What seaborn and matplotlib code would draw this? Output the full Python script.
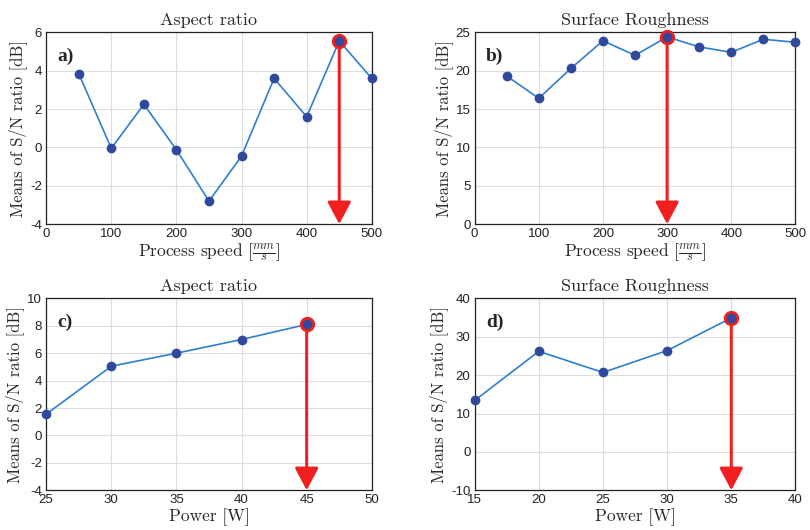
import numpy as np
import pandas as pd
import seaborn as sns
import matplotlib.pyplot as plt

# data
speed = [50, 100, 150, 200, 250, 300, 350, 400, 450, 500]
aspect_speed = [3.85, -0.05, 2.25, -0.12, -2.8, -0.45, 3.6, 1.6, 5.55, 3.6]
rough_speed = [19.3, 16.4, 20.3, 23.9, 22.0, 24.4, 23.1, 22.4, 24.1, 23.7]
power_c = [25, 30, 35, 40, 45]
aspect_power = [1.55, 5.05, 6.0, 7.0, 8.1]
power_d = [15, 20, 25, 30, 35]
rough_power = [13.4, 26.2, 20.7, 26.4, 34.9]

sns.set_style('white')
plt.rcParams['mathtext.fontset'] = 'cm'
plt.rcParams['axes.unicode_minus'] = False
plt.rcParams['font.family'] = ['Liberation Sans', 'DejaVu Sans']

line_col = '#2f7fcf'
dot_col = '#2f4a9c'
serif = ['cmr10', 'Liberation Serif']

panels = [
    dict(x=speed, y=aspect_speed, best=450, title='Aspect ratio', tag='a)',
         xlim=(0, 500), ylim=(-4, 6), xticks=np.arange(0, 501, 100), yticks=np.arange(-4, 7, 2),
         xlabel=r'Process speed $[\frac{mm}{s}]$', pos=[0.057, 0.577, 0.402, 0.362]),
    dict(x=speed, y=rough_speed, best=300, title='Surface Roughness', tag='b)',
         xlim=(0, 500), ylim=(0, 25), xticks=np.arange(0, 501, 100), yticks=np.arange(0, 26, 5),
         xlabel=r'Process speed $[\frac{mm}{s}]$', pos=[0.586, 0.577, 0.396, 0.362]),
    dict(x=power_c, y=aspect_power, best=45, title='Aspect ratio', tag='c)',
         xlim=(25, 50), ylim=(-4, 10), xticks=np.arange(25, 51, 5), yticks=np.arange(-4, 11, 2),
         xlabel='Power [W]', pos=[0.057, 0.075, 0.402, 0.362]),
    dict(x=power_d, y=rough_power, best=35, title='Surface Roughness', tag='d)',
         xlim=(15, 40), ylim=(-10, 40), xticks=np.arange(15, 41, 5), yticks=np.arange(-10, 41, 10),
         xlabel='Power [W]', pos=[0.586, 0.075, 0.396, 0.362]),
]

fig = plt.figure(figsize=(8.1, 5.3), dpi=100)

for p in panels:
    ax = fig.add_axes(p['pos'])
    df = pd.DataFrame({'x': p['x'], 'y': p['y']})
    sns.lineplot(data=df, x='x', y='y', ax=ax, color=line_col, lw=1.2, zorder=3)
    ax.plot(df['x'], df['y'], 'o', color=dot_col, ms=6, zorder=5, clip_on=False)

    # optimum level: red ring + arrow down to the axis
    i = p['x'].index(p['best'])
    bx, by = p['x'][i], p['y'][i]
    ax.annotate('', xy=(bx, p['ylim'][0]), xytext=(bx, by),
                arrowprops=dict(arrowstyle='-|>,head_width=0.45,head_length=0.85',
                                color='#f02020', lw=2.2, mutation_scale=16, shrinkA=0, shrinkB=0),
                zorder=4, annotation_clip=False)
    ax.plot([bx], [by], 'o', color='#f02020', ms=10, zorder=4.5, clip_on=False)
    ax.plot([bx], [by], 'o', color=dot_col, ms=5, zorder=6, clip_on=False)

    ax.set_xlim(p['xlim'])
    ax.set_ylim(p['ylim'])
    ax.set_xticks(p['xticks'])
    ax.set_yticks(p['yticks'])
    ax.grid(True, color='#dddddd', lw=0.8)
    ax.set_axisbelow(True)
    ax.tick_params(direction='in', length=3, labelsize=9.5, colors='#222222', pad=3)
    for s in ax.spines.values():
        s.set_color('#222222')
        s.set_linewidth(0.9)
    ax.set_title(p['title'], family=serif, fontsize=13, pad=5)
    ax.set_xlabel(p['xlabel'], family=serif, fontsize=12.5, labelpad=1)
    ax.set_ylabel('Means of S/N ratio [dB]', family=serif, fontsize=12, labelpad=2)
    ax.text(0.035, 0.92, p['tag'], transform=ax.transAxes, family='Liberation Serif',
            fontweight='bold', fontsize=14, va='top', ha='left')

fig.savefig('out.png', dpi=100)
